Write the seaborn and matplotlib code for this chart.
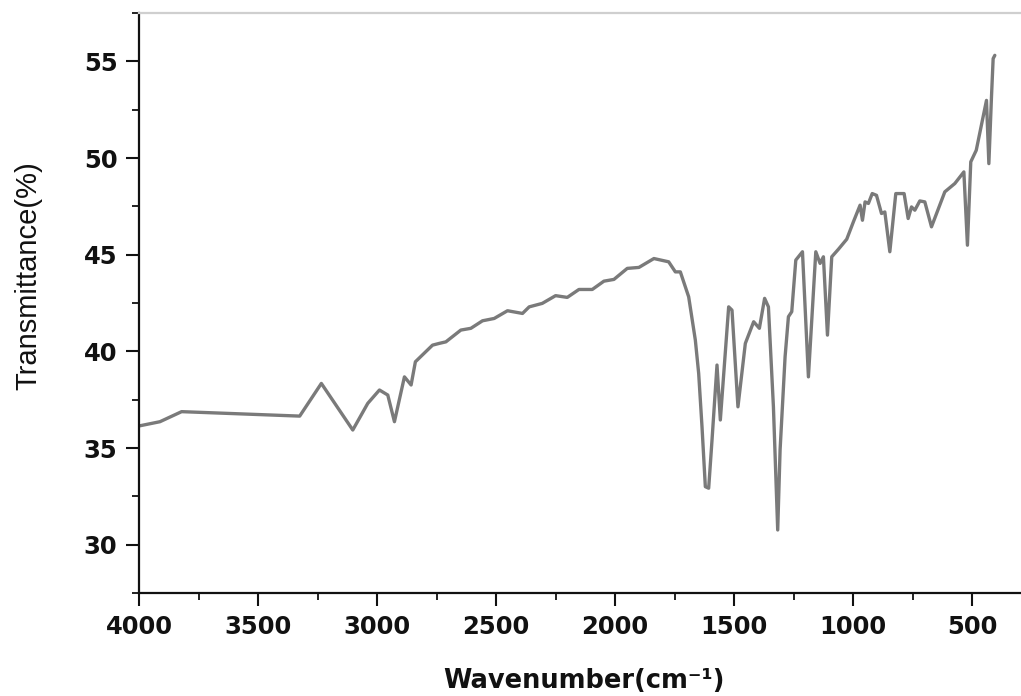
import matplotlib
matplotlib.use("Agg")
import matplotlib.pyplot as plt
from matplotlib.ticker import MultipleLocator
import seaborn as sns
import pandas as pd

# FTIR spectrum: wavenumber (cm^-1) and transmittance (%)
wavenumber = [
    4000, 3912, 3821, 3325, 3234, 3102, 3039, 2990, 2955, 2927,
    2885, 2857, 2839, 2767, 2739, 2711, 2648, 2606, 2557, 2508,
    2452, 2389, 2361, 2306, 2250, 2201, 2152, 2096, 2047, 2005,
    1949, 1900, 1837, 1775, 1747, 1726, 1691, 1663, 1649, 1635,
    1621, 1607, 1593, 1572, 1558, 1523, 1509, 1484, 1453, 1418,
    1394, 1372, 1356, 1335, 1317, 1307, 1286, 1272, 1258, 1241,
    1213, 1188, 1157, 1139, 1125, 1108, 1090, 1062, 1027, 999,
    971, 961, 950, 936, 920, 902, 881, 867, 846, 821,
    786, 769, 755, 741, 720, 699, 671, 615, 573, 535,
    520, 506, 483, 440, 430, 419, 412, 405,
]
transmittance = [
    36.14, 36.36, 36.88, 36.65, 38.34, 35.93, 37.31, 38.00, 37.74, 36.36,
    38.68, 38.26, 39.46, 40.32, 40.41, 40.49, 41.10, 41.19, 41.58, 41.70,
    42.10, 41.96, 42.30, 42.48, 42.88, 42.79, 43.20, 43.20, 43.63, 43.72,
    44.29, 44.34, 44.80, 44.63, 44.11, 44.11, 42.82, 40.58, 38.86, 36.10,
    33.00, 32.92, 35.40, 39.29, 36.45, 42.30, 42.13, 37.13, 40.41, 41.53,
    41.19, 42.74, 42.30, 37.13, 30.76, 34.90, 39.72, 41.79, 42.05, 44.72,
    45.15, 38.68, 45.15, 44.55, 44.89, 40.84, 44.89, 45.28, 45.80, 46.70,
    47.56, 46.78, 47.73, 47.65, 48.16, 48.07, 47.13, 47.21, 45.15, 48.16,
    48.16, 46.87, 47.47, 47.30, 47.78, 47.73, 46.44, 48.25, 48.68, 49.28,
    45.49, 49.80, 50.40, 52.98, 49.71, 53.16, 55.14, 55.31,
]

x_major = [4000, 3500, 3000, 2500, 2000, 1500, 1000, 500]
y_major = [30, 35, 40, 45, 50, 55]

sns.set_theme(style="ticks")
plt.rcParams["font.family"] = ["DejaVu Sans"]

df = pd.DataFrame({"Wavenumber": wavenumber, "Transmittance": transmittance})

fig = plt.figure(figsize=(10.21, 6.96), dpi=100)
ax = fig.add_axes([139 / 1021, 103 / 696, 882 / 1021, 580 / 696])

sns.lineplot(data=df, x="Wavenumber", y="Transmittance", ax=ax, sort=False,
             estimator=None, color="#7a7a7a", linewidth=2.4)
for ln in ax.get_lines():
    ln.set_solid_joinstyle("round")
    ln.set_solid_capstyle("round")

ax.set_xlim(4000, 295)
ax.set_ylim(27.5, 57.5)
ax.set_xticks(x_major)
ax.set_yticks(y_major)
ax.xaxis.set_minor_locator(MultipleLocator(250))
ax.yaxis.set_minor_locator(MultipleLocator(2.5))

ax.tick_params(axis="both", which="major", direction="out", length=9.5,
               width=1.5, pad=6, labelsize=17.5, colors="#111111")
ax.tick_params(axis="both", which="minor", direction="out", length=5,
               width=1.3, colors="#111111")
for lab in ax.get_xticklabels() + ax.get_yticklabels():
    lab.set_fontweight("bold")

for side in ("left", "bottom"):
    ax.spines[side].set_linewidth(1.6)
    ax.spines[side].set_color("#111111")
ax.spines["top"].set_color("#cfcfcf")
ax.spines["top"].set_linewidth(1.6)
ax.spines["right"].set_visible(False)

ax.set_xlabel("Wavenumber(cm\u207b\u00b9)", fontsize=18.5,
              fontweight="bold", color="#111111")
ax.xaxis.set_label_coords(0.505, -0.13)
ax.set_ylabel("Transmittance(%)", fontsize=21, color="#111111",
              family=["Liberation Sans", "DejaVu Sans"])
ax.yaxis.set_label_coords(-0.109, 0.547)

fig.savefig("out.png", dpi=100)
